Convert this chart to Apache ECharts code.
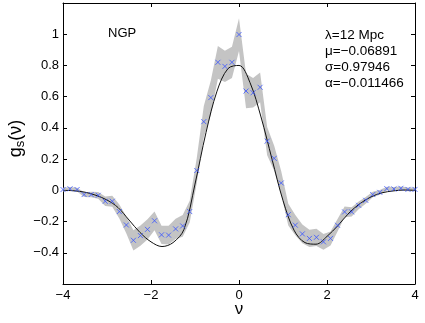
<!DOCTYPE html>
<html>
<head>
<meta charset="utf-8">
<script src="https://cdn.jsdelivr.net/npm/echarts@6/dist/echarts.min.js"></script>
<style>
  html, body { margin: 0; padding: 0; background: #fff; }
  #chart { width: 425px; height: 323px; }
</style>
</head>
<body>
<div id="chart"></div>
<script>
// measured genus points (blue crosses)
const nuPoints = [-4.00, -3.84, -3.68, -3.52, -3.36, -3.20, -3.04, -2.88, -2.72, -2.56,
  -2.40, -2.24, -2.08, -1.92, -1.76, -1.60, -1.44, -1.28, -1.12, -0.96,
  -0.80, -0.64, -0.48, -0.32, -0.16, 0.00, 0.16, 0.32, 0.48, 0.64,
  0.80, 0.96, 1.12, 1.28, 1.44, 1.60, 1.76, 1.92, 2.08, 2.24,
  2.40, 2.56, 2.72, 2.88, 3.04, 3.20, 3.36, 3.52, 3.68, 3.84, 4.00];
const gsPoints = [0.005, 0.010, 0.005, -0.027, -0.027, -0.032, -0.070, -0.070, -0.136, -0.222,
  -0.320, -0.290, -0.250, -0.195, -0.285, -0.287, -0.247, -0.228, -0.136, 0.127,
  0.440, 0.594, 0.820, 0.794, 0.820, 0.998, 0.636, 0.625, 0.660, 0.315,
  0.205, 0.047, -0.156, -0.223, -0.279, -0.308, -0.301, -0.330, -0.308, -0.224,
  -0.138, -0.138, -0.096, -0.064, -0.027, -0.013, 0.011, 0.009, 0.013, 0.006, 0.006];
// half width of the grey band around each point
const bandHalf = [0.012, 0.012, 0.012, 0.015, 0.018, 0.022, 0.030, 0.035, 0.045, 0.055,
  0.065, 0.065, 0.065, 0.060, 0.058, 0.060, 0.065, 0.070, 0.070, 0.080,
  0.100, 0.110, 0.105, 0.100, 0.100, 0.105, 0.110, 0.095, 0.095, 0.090,
  0.080, 0.075, 0.070, 0.065, 0.060, 0.055, 0.055, 0.050, 0.045, 0.040,
  0.035, 0.030, 0.025, 0.022, 0.018, 0.015, 0.012, 0.012, 0.012, 0.012, 0.012];

// theoretical curve (black line)
const nuCurve = [-4.0, -3.75, -3.5, -3.25, -3.0, -2.75, -2.5, -2.25, -2.0, -1.75,
  -1.5, -1.25, -1.0, -0.75, -0.5, -0.25, 0.0, 0.25, 0.5, 0.75,
  1.0, 1.25, 1.5, 1.75, 2.0, 2.25, 2.5, 2.75, 3.0, 3.25, 3.5, 3.75, 4.0];
const gsCurve = [0.000, -0.003, -0.012, -0.032, -0.062, -0.110, -0.190, -0.270, -0.330, -0.360,
  -0.335, -0.250, 0.040, 0.370, 0.635, 0.780, 0.800, 0.690, 0.470, 0.200,
  -0.065, -0.255, -0.335, -0.345, -0.295, -0.225, -0.145, -0.085, -0.042, -0.016, -0.004, 0.002, 0.000];

const xTicks = { min: -4, max: 4, interval: 2 };
const yTicks = { min: -0.6, max: 1.2, interval: 0.2 };
const infoLines = ['λ=12 Mpc', 'μ=−0.06891', 'σ=0.97946', 'α=−0.011466'];

const FONT = 'Liberation Sans, Arial, Helvetica, sans-serif';
const minus = v => String(v).replace('-', '\u2212');

const chart = echarts.init(document.getElementById('chart'), null, { renderer: 'canvas' });

const axisCommon = {
  axisLine: { show: true, onZero: false, lineStyle: { color: '#000', width: 1 } },
  axisTick: { show: true, inside: true, length: 4, lineStyle: { color: '#000' } },
  splitLine: { show: false }
};

chart.setOption({
  animation: false,
  backgroundColor: '#fff',
  grid: { left: 63, right: 10, top: 3, bottom: 39, containLabel: false, outerBoundsMode: 'none' },
  xAxis: [
    Object.assign({
      type: 'value', position: 'bottom', ...xTicks,
      name: 'ν', nameLocation: 'middle', nameGap: 17, nameMoveOverlap: false,
      nameTextStyle: { fontFamily: FONT, fontSize: 17, color: '#000' },
      axisLabel: { fontFamily: FONT, fontSize: 13, color: '#000', margin: 5, formatter: minus }
    }, axisCommon),
    Object.assign({
      type: 'value', position: 'top', ...xTicks,
      axisLabel: { show: false }
    }, axisCommon)
  ],
  yAxis: [
    Object.assign({
      type: 'value', position: 'left', ...yTicks,
      name: '{g|g}{s|s}{g|(ν)}', nameLocation: 'middle', nameGap: 36, nameRotate: 90,
      nameMoveOverlap: false,
      nameTextStyle: {
        padding: [0, 0, 0, 10],
        rich: {
          g: { fontFamily: FONT, fontSize: 18, color: '#000' },
          s: { fontFamily: FONT, fontSize: 13, color: '#000', padding: [8, 0, 0, 0] }
        }
      },
      axisLabel: {
        fontFamily: FONT, fontSize: 13, color: '#000', margin: 4,
        formatter: v => (v < -0.5 || v > 1.1) ? '' : minus(Math.round(v * 10) / 10)
      }
    }, axisCommon),
    Object.assign({
      type: 'value', position: 'right', ...yTicks,
      axisLabel: { show: false }
    }, axisCommon)
  ],
  graphic: [
    { type: 'text', left: 108, top: 27, style: { text: 'NGP', font: '13px ' + FONT, fill: '#000' } },
    {
      type: 'text', left: 325, top: 27,
      style: { text: infoLines.join('\n'), font: '13.5px ' + FONT, lineHeight: 16, fill: '#000' }
    }
  ],
  series: [
    {
      type: 'custom',
      z: 1,
      silent: true,
      data: nuPoints.map((x, i) => [x, gsPoints[i]]),
      renderItem: (params, api) => {
        if (params.dataIndex !== 0) return null;
        const pts = [];
        for (let i = 0; i < nuPoints.length; i++) {
          pts.push(api.coord([nuPoints[i], gsPoints[i] + bandHalf[i]]));
        }
        for (let i = nuPoints.length - 1; i >= 0; i--) {
          pts.push(api.coord([nuPoints[i], gsPoints[i] - bandHalf[i]]));
        }
        return { type: 'polygon', shape: { points: pts }, style: { fill: '#c4c4c4' } };
      }
    },
    {
      type: 'line',
      z: 3,
      data: nuCurve.map((x, i) => [x, gsCurve[i]]),
      smooth: 0.35,
      showSymbol: false,
      lineStyle: { color: '#111', width: 1 },
      silent: true
    },
    {
      type: 'scatter',
      z: 4,
      data: nuPoints.map((x, i) => [x, gsPoints[i]]),
      symbol: 'path://M0 0L10 10M10 0L0 10',
      symbolSize: 5,
      itemStyle: { color: 'none', borderColor: '#3a55ff', borderWidth: 1 },
      silent: true
    }
  ]
});

window.addEventListener('resize', () => chart.resize());
</script>
</body>
</html>
